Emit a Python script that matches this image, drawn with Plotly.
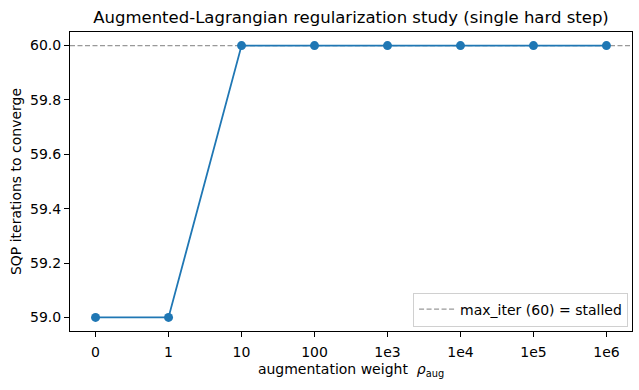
import plotly.graph_objects as go

categories = ["0", "1", "10", "100", "1e3", "1e4", "1e5", "1e6"]
iterations = [59, 59, 60, 60, 60, 60, 60, 60]
max_iter = 60
yticks = [59.0, 59.2, 59.4, 59.6, 59.8, 60.0]

FONT = "DejaVu Sans"
idx = list(range(len(categories)))

fig = go.Figure()
fig.add_trace(go.Scatter(
    x=idx, y=iterations, mode="lines+markers",
    line=dict(color="#1f77b4", width=1.8),
    marker=dict(color="#1f77b4", size=9),
    showlegend=False,
))
fig.add_hline(y=max_iter, line=dict(color="#999999", width=1.2, dash="5px,2.5px"),
              showlegend=True, name="max_iter (60) = stalled", layer="below")

fig.update_layout(
    width=639, height=390,
    margin=dict(l=70, r=7, t=32, b=59),
    paper_bgcolor="white", plot_bgcolor="white",
    font=dict(family=FONT, size=14, color="black"),
    title=dict(text="Augmented-Lagrangian regularization study (single hard step)",
               x=0.5, xref="paper", xanchor="center", y=1 - 17/390, yanchor="middle",
               font=dict(size=16.5, color="black")),
    legend=dict(x=0.993, y=0.015, xanchor="right", yanchor="bottom",
                bgcolor="white", bordercolor="#d0d0d0", borderwidth=1,
                font=dict(size=14), itemwidth=36),
    showlegend=True,
)
fig.update_xaxes(
    tickmode="array", tickvals=idx, ticktext=categories,
    range=[-0.35, len(categories) - 1 + 0.35],
    showgrid=False, zeroline=False,
    showline=True, linecolor="black", linewidth=1, mirror=True,
    ticks="outside", ticklen=5, tickcolor="black", ticklabelstandoff=3,
    title=dict(text="augmentation weight  <i>ρ</i><sub>aug</sub>", standoff=5, font=dict(size=14)),
)
fig.update_yaxes(
    tickmode="array", tickvals=yticks, ticktext=[f"{v:.1f}" for v in yticks],
    range=[58.95, 60.05],
    showgrid=False, zeroline=False,
    showline=True, linecolor="black", linewidth=1, mirror=True,
    ticks="outside", ticklen=5, tickcolor="black",
    title=dict(text="SQP iterations to converge", standoff=5, font=dict(size=14)),
)

fig.write_html("out.html")
